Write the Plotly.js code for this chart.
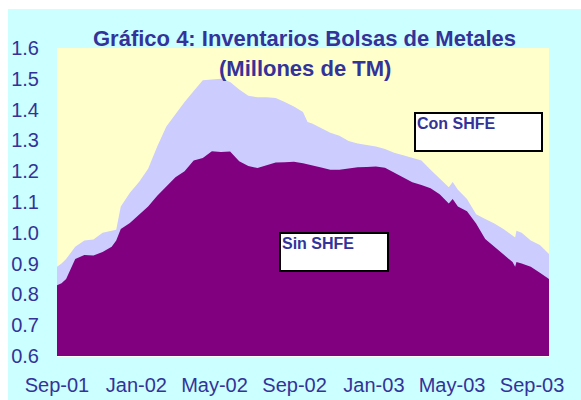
<!DOCTYPE html>
<html>
<head>
<meta charset="utf-8">
<script src="https://cdn.plot.ly/plotly-3.0.1.min.js"></script>
<style>
  html, body { margin: 0; padding: 0; background: #ffffff; }
  #chart { position: absolute; left: 8px; top: 9px; width: 573px; height: 391px; }
</style>
</head>
<body>
<div id="chart"></div>
<script>
// Dates (bi-weekly samples, plus a few extra points at sharp features)
const dates = [
  "2001-09-01","2001-09-08","2001-09-15","2001-09-29","2001-10-13","2001-10-27","2001-11-10","2001-11-24",
  "2001-12-01","2001-12-08","2001-12-22","2002-01-05","2002-01-19","2002-02-02","2002-02-16","2002-03-02",
  "2002-03-16","2002-03-30","2002-04-13","2002-04-27","2002-05-11","2002-05-25","2002-06-08",
  "2002-06-22","2002-07-06","2002-07-20","2002-08-03","2002-08-17","2002-08-31","2002-09-14",
  "2002-09-21","2002-09-28","2002-10-12","2002-10-26","2002-11-09","2002-11-23","2002-12-07","2002-12-21",
  "2003-01-04","2003-01-18","2003-02-01","2003-02-15","2003-03-01","2003-03-15","2003-03-29",
  "2003-04-12","2003-04-26","2003-05-02","2003-05-10","2003-05-24","2003-06-07","2003-06-21",
  "2003-07-05","2003-07-19","2003-08-02","2003-08-06","2003-08-08","2003-08-16","2003-08-30",
  "2003-09-13","2003-09-27"
];
// Con SHFE (total inventories, millions of tonnes)
const conSHFE = [
  0.890,0.900,0.915,0.955,0.975,0.978,1.000,1.007,
  1.010,1.085,1.130,1.165,1.208,1.280,1.345,1.385,
  1.425,1.460,1.495,1.498,1.500,1.490,1.465,
  1.445,1.440,1.440,1.438,1.425,1.410,1.392,
  1.360,1.355,1.340,1.325,1.315,1.298,1.290,1.285,
  1.280,1.272,1.260,1.252,1.243,1.235,1.205,
  1.175,1.148,1.165,1.140,1.110,1.060,1.045,
  1.030,1.012,0.990,0.985,1.007,1.000,0.975,
  0.960,0.931
];
// Sin SHFE (without Shanghai exchange)
const sinSHFE = [
  0.830,0.836,0.850,0.915,0.928,0.926,0.938,0.955,
  0.975,1.012,1.032,1.058,1.085,1.120,1.150,1.180,
  1.200,1.235,1.243,1.265,1.262,1.264,1.232,
  1.217,1.210,1.218,1.228,1.229,1.231,1.226,
  1.223,1.220,1.212,1.205,1.205,1.209,1.213,1.214,
  1.215,1.211,1.195,1.180,1.164,1.155,1.145,
  1.125,1.095,1.110,1.085,1.070,1.030,0.980,
  0.955,0.930,0.905,0.890,0.905,0.900,0.890,
  0.870,0.850
];
const tickFont = { family: "Arial, 'Liberation Sans', sans-serif", size: 20, color: "#333399" };

const traces = [
  { x: dates, y: conSHFE, name: "Con SHFE", type: "scatter", mode: "lines",
    fill: "tozeroy", fillcolor: "#CCCCFF", line: { width: 0, color: "#CCCCFF" }, hoverinfo: "skip" },
  { x: dates, y: sinSHFE, name: "Sin SHFE", type: "scatter", mode: "lines",
    fill: "tozeroy", fillcolor: "#800080", line: { width: 0, color: "#800080" }, hoverinfo: "skip" }
];

const layout = {
  width: 573, height: 391,
  margin: { l: 49, r: 32, t: 39, b: 44, pad: 0 },
  paper_bgcolor: "#CCFFFF",
  plot_bgcolor: "#FFFFCC",
  showlegend: false,
  xaxis: {
    type: "date",
    range: ["2001-09-01", "2003-09-27"],
    tick0: "2001-09-01", dtick: "M4", tickformat: "%b-%y",
    showgrid: false, zeroline: false,
    showline: true, linecolor: "#FFFFFF", linewidth: 1,
    ticks: "outside", ticklen: 11, tickcolor: "rgba(0,0,0,0)",
    tickfont: tickFont
  },
  yaxis: {
    range: [0.6, 1.6], dtick: 0.1, tick0: 0.6, tickformat: ".1f",
    showgrid: false, zeroline: false, showline: false,
    ticks: "outside", ticklen: 13, tickcolor: "rgba(0,0,0,0)",
    tickfont: tickFont
  },
  annotations: [
    { text: "<b>Gráfico 4: Inventarios Bolsas de Metales</b>", xref: "paper", yref: "paper",
      x: 0.504, y: 1.032, xanchor: "center", yanchor: "middle", showarrow: false,
      font: { family: "Arial, 'Liberation Sans', sans-serif", size: 22, color: "#333399" } },
    { text: "<b>(Millones de TM)</b>", xref: "paper", yref: "paper",
      x: 0.504, y: 0.932, xanchor: "center", yanchor: "middle", showarrow: false,
      font: { family: "Arial, 'Liberation Sans', sans-serif", size: 22, color: "#333399" } },
    { text: "<b>Con SHFE</b>", xref: "paper", yref: "paper",
      x: 0.7256, y: 0.792, xanchor: "left", yanchor: "top", showarrow: false,
      width: 123, height: 34, align: "left", valign: "top",
      bgcolor: "#FFFFFF", bordercolor: "#000000", borderwidth: 2, borderpad: 1,
      font: { family: "Arial, 'Liberation Sans', sans-serif", size: 16, color: "#333399" } },
    { text: "<b>Sin SHFE</b>", xref: "paper", yref: "paper",
      x: 0.4512, y: 0.4026, xanchor: "left", yanchor: "top", showarrow: false,
      width: 104, height: 34, align: "left", valign: "top",
      bgcolor: "#FFFFFF", bordercolor: "#000000", borderwidth: 2, borderpad: 1,
      font: { family: "Arial, 'Liberation Sans', sans-serif", size: 16, color: "#333399" } }
  ]
};

Plotly.newPlot("chart", traces, layout, { staticPlot: true, displayModeBar: false });
</script>
</body>
</html>
